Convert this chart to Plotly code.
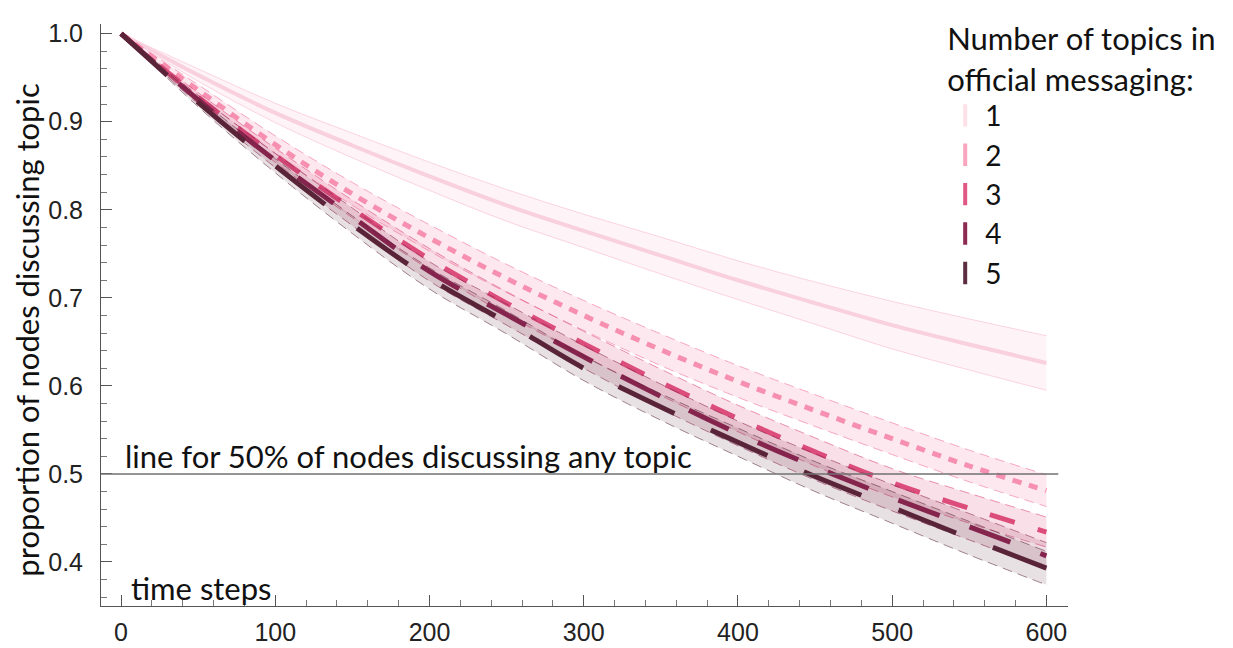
import plotly.graph_objects as go

# time steps sampled every 50
steps = [0, 50, 100, 150, 200, 250, 300, 350, 400, 450, 500, 550, 600]

# mean proportion of nodes still discussing a topic, per number of topics
topic1 = [1.0, 0.953, 0.910, 0.873, 0.838, 0.805, 0.776, 0.748, 0.720, 0.694, 0.669, 0.647, 0.626]
topic2 = [1.0, 0.936, 0.874, 0.818, 0.768, 0.722, 0.680, 0.641, 0.605, 0.572, 0.540, 0.509, 0.481]
topic3 = [1.0, 0.928, 0.862, 0.801, 0.744, 0.694, 0.648, 0.604, 0.563, 0.525, 0.490, 0.461, 0.434]
topic4 = [1.0, 0.925, 0.856, 0.792, 0.730, 0.681, 0.633, 0.588, 0.546, 0.508, 0.473, 0.440, 0.407]
topic5 = [1.0, 0.922, 0.850, 0.783, 0.722, 0.672, 0.620, 0.576, 0.536, 0.497, 0.462, 0.427, 0.393]

# half width of the confidence band around each mean
band1 = [0, 0.007, 0.011, 0.014, 0.016, 0.018, 0.019, 0.021, 0.022, 0.024, 0.027, 0.029, 0.031]
band2 = [0, 0.006, 0.010, 0.013, 0.015, 0.016, 0.017, 0.018, 0.018, 0.018, 0.018, 0.018, 0.018]
band3 = [0, 0.005, 0.008, 0.010, 0.012, 0.013, 0.014, 0.015, 0.015, 0.016, 0.016, 0.017, 0.017]
band4 = [0, 0.005, 0.008, 0.010, 0.011, 0.012, 0.013, 0.014, 0.014, 0.015, 0.015, 0.015, 0.015]
band5 = [0, 0.005, 0.008, 0.010, 0.012, 0.013, 0.014, 0.015, 0.016, 0.017, 0.018, 0.019, 0.019]

topic_names = ['1', '2', '3', '4', '5']
threshold = 0.5

FONT = 'Lato'
TEXT_SIZE = 31

series = [
    (topic1, band1, '#f9d0dd', 'rgba(248,195,212,0.2)', 'rgba(247,180,202,0.55)', 'solid', 'solid', 4),
    (topic2, band2, '#f68fb0', 'rgba(248,165,192,0.26)', 'rgba(244,140,175,0.75)', '9px,8px', '10px,6px', 5),
    (topic3, band3, '#dc4d7b', 'rgba(226,100,140,0.2)', 'rgba(220,77,123,0.6)', '26px,24px', '10px,6px', 5),
    (topic4, band4, '#8c2350', 'rgba(140,35,80,0.16)', 'rgba(140,35,80,0.55)', '44px,32px', '10px,6px', 5),
    (topic5, band5, '#5a2438', 'rgba(90,40,60,0.14)', 'rgba(90,36,56,0.55)', '62px,40px', '10px,6px', 5),
]
legend_colors = ['#fde0e8', '#f8a6bf', '#e05884', '#8c2a52', '#5c2c40']

fig = go.Figure()

for mean, half, color, fill, edge, dash, edge_dash, width in series:
    upper = [m + h for m, h in zip(mean, half)]
    lower = [m - h for m, h in zip(mean, half)]
    fig.add_trace(go.Scatter(x=steps, y=upper, mode='lines', showlegend=False, hoverinfo='skip',
                             line=dict(color=edge, width=1, dash=edge_dash, shape='spline')))
    fig.add_trace(go.Scatter(x=steps, y=lower, mode='lines', fill='tonexty', fillcolor=fill,
                             showlegend=False, hoverinfo='skip',
                             line=dict(color=edge, width=1, dash=edge_dash, shape='spline')))
    fig.add_trace(go.Scatter(x=steps, y=mean, mode='lines', showlegend=False,
                             line=dict(color=color, width=width, dash=dash, shape='spline')))

# legend entries drawn as short vertical bars
for name, color in zip(topic_names, legend_colors):
    fig.add_trace(go.Scatter(x=[None], y=[None], mode='markers', name=name,
                             marker=dict(symbol='line-ns', size=16, line=dict(width=4, color=color))))

# 50% reference line
fig.add_shape(type='line', xref='paper', yref='y', x0=0, x1=0.99, y0=threshold, y1=threshold,
              line=dict(color='#707070', width=1.5))
fig.add_annotation(x=1, y=threshold, xref='x', yref='y', xanchor='left', yanchor='bottom',
                   text='line for 50% of nodes discussing any topic', showarrow=False,
                   font=dict(family=FONT, size=TEXT_SIZE, color='#111'), yshift=-3)
fig.add_annotation(x=5, y=0.371, xref='x', yref='y', xanchor='left', yanchor='middle',
                   text='time steps', showarrow=False, font=dict(family=FONT, size=TEXT_SIZE, color='#111'))
fig.add_annotation(x=-0.076, y=0.474, xref='paper', yref='paper', textangle=-90,
                   xanchor='center', yanchor='middle',
                   text='proportion of nodes discussing topic', showarrow=False,
                   font=dict(family=FONT, size=TEXT_SIZE, color='#111'))

fig.update_layout(
    width=1225, height=640,
    margin=dict(l=93, r=165, t=2, b=39),
    plot_bgcolor='white', paper_bgcolor='white',
    xaxis=dict(range=[-13, 614], showgrid=False, zeroline=False, showline=True, linecolor='#555',
               linewidth=1, ticks='inside', ticklen=11, tickcolor='#555', dtick=100, tick0=0,
               minor=dict(dtick=20, ticklen=6, ticks='inside', tickcolor='#777'),
               tickfont=dict(family='Liberation Sans', size=25, color='#222'), ticklabelstandoff=4),
    yaxis=dict(range=[0.35, 1.011], showgrid=False, zeroline=False, showline=True, linecolor='#555',
               linewidth=1, ticks='inside', ticklen=11, tickcolor='#555', dtick=0.1, tick0=0,
               tickformat='.1f',
               minor=dict(dtick=0.02, ticklen=6, ticks='inside', tickcolor='#777'),
               tickfont=dict(family='Liberation Sans', size=25, color='#222'), ticklabelstandoff=12),
    legend=dict(x=0.873, y=1.024, xanchor='left', yanchor='top', bgcolor='rgba(0,0,0,0)',
                traceorder='normal',
                title=dict(text='Number of topics in<br>official messaging:',
                           font=dict(family=FONT, size=TEXT_SIZE, color='#111')),
                font=dict(family=FONT, size=28, color='#111'), itemwidth=30),
)

fig.write_html("out.html")
